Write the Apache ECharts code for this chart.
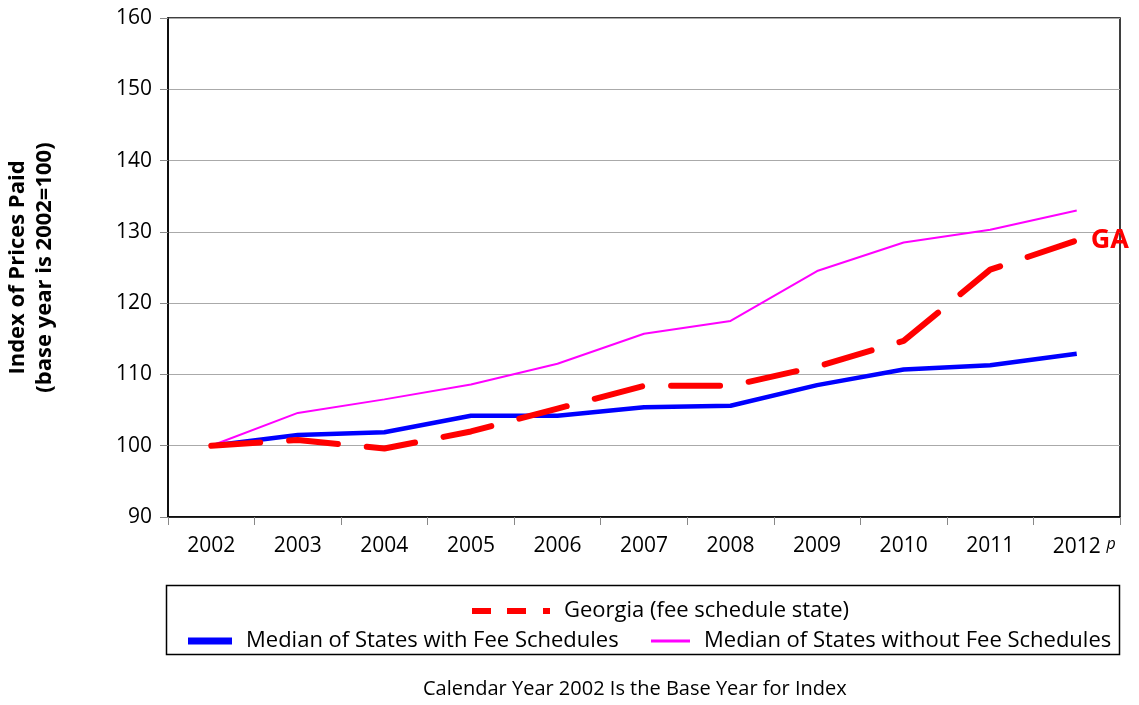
<!DOCTYPE html>
<html>
<head>
<meta charset="utf-8">
<script src="https://cdn.jsdelivr.net/npm/echarts@6/dist/echarts.min.js"></script>
<style>
  html, body { margin: 0; padding: 0; background: #fff; }
  #chart { width: 1139px; height: 705px; }
</style>
</head>
<body>
<div id="chart"></div>
<script>
// Index of prices paid, base year 2002 = 100
const years = ['2002', '2003', '2004', '2005', '2006', '2007', '2008', '2009', '2010', '2011', '2012'];
const georgia = [100, 100.8, 99.6, 102.0, 105.2, 108.4, 108.4, 111.1, 114.7, 124.7, 128.8];
const withFeeSchedules = [100, 101.5, 101.9, 104.2, 104.2, 105.4, 105.6, 108.5, 110.7, 111.3, 112.9];
const withoutFeeSchedules = [100, 104.6, 106.5, 108.6, 111.5, 115.7, 117.5, 124.5, 128.5, 130.3, 133.0];
const yTicks = { min: 90, max: 160, interval: 10 };
const preliminaryYear = '2012';

const NAME_GA = 'Georgia (fee schedule state)';
const NAME_WITH = 'Median of States with Fee Schedules';
const NAME_WITHOUT = 'Median of States without Fee Schedules';

const FONT = '"Open Sans", "DejaVu Sans", sans-serif';
const legendText = { fontFamily: FONT, fontSize: 22, color: '#000', padding: [0, 0, 0, 9] };

const chart = echarts.init(document.getElementById('chart'), null, { renderer: 'canvas' });

chart.setOption({
  backgroundColor: '#fff',
  animation: false,
  textStyle: { fontFamily: FONT, color: '#000' },
  grid: {
    left: 168, right: 19, top: 18, bottom: 188,
    containLabel: false, outerBoundsMode: 'none',
    show: true, borderColor: '#000', borderWidth: 1.5, backgroundColor: 'transparent'
  },
  legend: [
    {
      data: [NAME_GA],
      left: 467, top: 595,
      icon: 'path://M0,0h19v6h-19z M35,0h19v6h-19z M71,0h7v6h-7z',
      itemWidth: 78, itemHeight: 6,
      textStyle: legendText
    },
    {
      data: [NAME_WITH],
      left: 183, top: 625,
      icon: 'rect', itemWidth: 44, itemHeight: 7,
      textStyle: legendText
    },
    {
      data: [NAME_WITHOUT],
      left: 646, top: 625,
      icon: 'rect', itemWidth: 39, itemHeight: 3,
      textStyle: legendText
    }
  ],
  graphic: [
    {
      type: 'rect', left: 164, top: 583,
      shape: { width: 953, height: 69 },
      style: { fill: 'none', stroke: '#000', lineWidth: 1.5 }
    },
    {
      type: 'text', left: 423, top: 679,
      style: {
        text: 'Calendar Year 2002 Is the Base Year for Index',
        font: '20px ' + FONT, fill: '#000'
      }
    }
  ],
  xAxis: {
    type: 'category',
    data: years,
    boundaryGap: true,
    axisLine: { lineStyle: { color: '#000', width: 1.5 } },
    axisTick: { show: true, length: 8, lineStyle: { color: '#888' } },
    axisLabel: {
      interval: 0,
      fontSize: 21, color: '#000', margin: 19, fontFamily: FONT,
      formatter: function (v) {
        // preliminary year carries a superscript "p"; a spacer keeps the year centred on its tick
        return v === preliminaryYear ? '{sp|}{n|' + v + '}{sup|p}' : v;
      },
      rich: {
        n: { fontSize: 21, lineHeight: 22, fontFamily: FONT, color: '#000' },
        sp: { width: 15, lineHeight: 22 },
        sup: { fontSize: 16, lineHeight: 16, fontStyle: 'italic', align: 'right', width: 15,
               verticalAlign: 'top', padding: [0, 0, 6, 0], fontFamily: FONT, color: '#000' }
      }
    }
  },
  yAxis: {
    type: 'value',
    min: yTicks.min, max: yTicks.max, interval: yTicks.interval,
    name: 'Index of Prices Paid\n(base year is 2002=100)',
    nameLocation: 'middle', nameGap: 110, nameRotate: 90,
    nameTextStyle: { fontSize: 22, fontWeight: 'bold', color: '#000', fontFamily: FONT, lineHeight: 27 },
    axisLine: { show: true, lineStyle: { color: '#000', width: 1.5 } },
    axisTick: { show: true, length: 8, lineStyle: { color: '#888' } },
    axisLabel: { fontSize: 21, color: '#000', margin: 16, fontFamily: FONT },
    splitLine: { show: true, lineStyle: { color: '#aaa', width: 1 } }
  },
  series: [
    {
      name: NAME_WITHOUT,
      type: 'line', data: withoutFeeSchedules, symbol: 'none',
      color: '#ff00ff',
      lineStyle: { color: '#ff00ff', width: 2 }, z: 2
    },
    {
      name: NAME_WITH,
      type: 'line', data: withFeeSchedules, symbol: 'none',
      color: '#0000ff',
      lineStyle: { color: '#0000ff', width: 4.5 }, z: 3
    },
    {
      name: NAME_GA,
      type: 'line', data: georgia, symbol: 'none',
      color: '#ff0000',
      lineStyle: { color: '#ff0000', width: 6, type: [49, 29], cap: 'round' }, z: 4,
      endLabel: {
        show: true, formatter: 'GA', distance: 14,
        fontSize: 27, fontWeight: 'bold', color: '#ff0000', fontFamily: FONT
      }
    }
  ]
});
</script>
</body>
</html>
